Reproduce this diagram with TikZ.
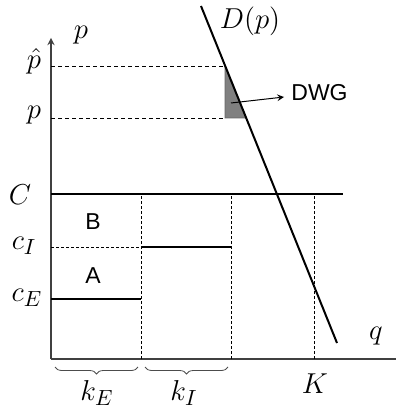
\documentclass[tikz,border=0pt]{standalone}
\usepackage{fontspec}
\newfontfamily\labelsans{Liberation Sans}
\usetikzlibrary{decorations.pathreplacing}

\begin{document}
\begin{tikzpicture}[x=0.5pt, y=-0.5pt, >=stealth,
    font=\fontsize{15.5}{17}\selectfont,
    axis/.style={draw=black!75, line width=0.6pt},
    level/.style={line width=1.1pt},
    guide/.style={line width=0.4pt, dash pattern=on 2pt off 1.5pt},
    vguide/.style={line width=0.4pt, dash pattern=on 1.5pt off 1pt},
    area/.style={font=\labelsans\fontsize{11.5}{13}\selectfont},
    brace/.style={decorate, decoration={brace, mirror, amplitude=3.5pt}, draw=black!70, line width=0.4pt}]

    \useasboundingbox (0,0) rectangle (396,411);

    % Draw axes
    \coordinate (O) at (51,359);
    \coordinate (ytop) at (51,38);
    \coordinate (xend) at (396,359);
    \draw[axis, ->] (O) -- (ytop);
    \draw[axis] (O) -- (xend);
    \node (plab) at (81,35) {$p$};
    \node (qlab) at (376,336) {$q$};

    % Price levels and the deadweight triangle
    \coordinate (pH) at (51,66);
    \coordinate (pL) at (51,118);
    \coordinate (tA) at (225,66);
    \coordinate (tB) at (225,118);
    \coordinate (tC) at (246,118);
    \filldraw[fill=black!50, draw=black!60, line width=0.4pt] (tA) -- (tB) -- (tC) -- cycle;
    \draw[guide] (pH) -- (tA);
    \draw[guide] (pL) -- (tB);
    \node[anchor=east] (phat) at (48,61) {$\hat{p}$};
    \node[anchor=east] (plev) at (48,115) {$p$};

    % Vertical guides
    \foreach \x in {141,231,314}
        \draw[vguide] (\x,359) -- (\x,194);
    \draw[vguide] (51,247) -- (141,247);

    % Cost levels
    \draw[level] (51,194) -- (343,194);
    \draw[level] (141,247) -- (231,247);
    \draw[level] (51,299) -- (141,299);
    \node (Clab) at (20,195) {$C$};
    \node (cIlab) at (24,246) {$c_I$};
    \node (cElab) at (27,298) {$c_E$};
    \node[area] (Blab) at (93,222) {B};
    \node[area] (Alab) at (93,276) {A};

    % Demand curve
    \coordinate (Dtop) at (201,6);
    \coordinate (Dbot) at (337,343);
    \draw[line width=1pt] (Dtop) -- (Dbot);
    \node (Dlab) at (250,21) {$D(p)$};

    % DWG label
    \node[area, anchor=west, inner sep=2pt] (dwg) at (287,93) {DWG};
    \coordinate (dwgfrom) at (231,103);
    \coordinate (dwgto) at (284,97);
    \draw[->, line width=0.5pt] (dwgfrom) -- (dwgto);

    % Capacities
    \draw[brace] (55,367) -- (138,367);
    \draw[brace] (145,367) -- (228,367);
    \node (kE) at (97,393) {$k_E$};
    \node (kI) at (184,393) {$k_I$};
    \node (Klab) at (315,384) {$K$};
\end{tikzpicture}
\end{document}
